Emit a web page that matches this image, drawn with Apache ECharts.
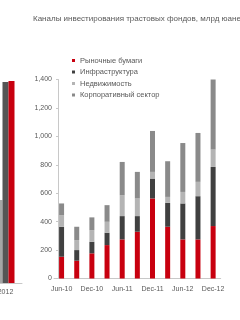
<!DOCTYPE html>
<html><head><meta charset="utf-8">
<script src="https://cdn.jsdelivr.net/npm/echarts@6/dist/echarts.min.js"></script>
<style>html,body{margin:0;padding:0;background:#fff}#c{width:240px;height:320px}</style>
</head><body><div id="c"></div>
<script>
var title = 'Каналы инвестирования трастовых фондов, млрд юаней';
var categories = ['Jun-10','Sep-10','Dec-10','Mar-11','Jun-11','Sep-11','Dec-11','Mar-12','Jun-12','Sep-12','Dec-12'];
var seriesNames = ['Рыночные бумаги','Инфраструктура','Недвижимость','Корпоративный сектор'];
var market = [153,125,177,235,275,329,563,364,275,275,369];
var infra = [211,75,81,87,164,110,140,168,253,304,416];
var realEstate = [82,70,82,77,147,124,47,42,81,101,122];
var corporate = [82,94,90,117,234,187,288,251,344,344,500];
var yTicks = [0,200,400,600,800,1000,1200,1400];
var leftCategories = ['2012'];
var leftLight = [571];
var leftDark = [1383];
var leftRed = [1390];

var colors = ['#c8000f','#404040','#b4b4b4','#8a8a8a'];
var font = 'Liberation Sans';
var txt = '#595959';
function fmt(v){return String(v).replace(/\B(?=(\d{3})+(?!\d))/g, ',');}
var data = [market, infra, realEstate, corporate];
var series = seriesNames.map(function(n,i){
  return {name:n,type:'bar',stack:'s',xAxisIndex:1,yAxisIndex:1,barWidth:5,data:data[i],
    itemStyle:{color:colors[i]},emphasis:{disabled:true}};
});
series.push({type:'bar',xAxisIndex:0,yAxisIndex:0,barWidth:6,barGap:'0%',data:leftLight,itemStyle:{color:'#a6a6a6'},silent:true});
series.push({type:'bar',xAxisIndex:0,yAxisIndex:0,barWidth:6,barGap:'0%',data:leftDark,itemStyle:{color:'#555555'},silent:true});
series.push({type:'bar',xAxisIndex:0,yAxisIndex:0,barWidth:6,barGap:'0%',data:leftRed,itemStyle:{color:'#c8000f'},silent:true});

var chart = echarts.init(document.getElementById('c'), null, {renderer:'canvas'});
chart.setOption({
  animation:false,
  backgroundColor:'#fff',
  title:{text:title,left:33,top:15,padding:0,textStyle:{fontFamily:font,fontSize:8,fontWeight:'normal',color:txt}},
  legend:{orient:'vertical',left:72,top:56,padding:0,icon:'rect',itemWidth:3,itemHeight:3,itemGap:2.5,
    data:seriesNames,textStyle:{fontFamily:font,fontSize:7.5,color:txt,lineHeight:9},selectedMode:false},
  grid:[
    {left:-11,width:33,top:79.5,bottom:37,containLabel:false,outerBoundsMode:'none'},
    {left:54,right:19.3,top:79.5,bottom:41.5,containLabel:false,outerBoundsMode:'none'}
  ],
  xAxis:[
    {type:'category',gridIndex:0,data:leftCategories,axisLine:{lineStyle:{color:'#c8c8c8'}},axisTick:{show:false},
      axisLabel:{interval:0,fontFamily:font,fontSize:7,color:txt,margin:6}},
    {type:'category',gridIndex:1,data:categories,axisLine:{lineStyle:{color:'#c8c8c8'}},axisTick:{show:false},
      axisLabel:{interval:1,fontFamily:font,fontSize:7,color:txt,margin:7}}
  ],
  yAxis:[
    {type:'value',gridIndex:0,min:0,max:1400,show:false},
    {type:'value',gridIndex:1,min:0,max:1400,interval:200,offset:-4,splitLine:{show:false},
      axisLine:{show:true,lineStyle:{color:'#c8c8c8'}},axisTick:{show:true,length:2,lineStyle:{color:'#c8c8c8'}},
      axisLabel:{fontFamily:font,fontSize:7,color:txt,margin:6,formatter:function(v){return fmt(v);}}}
  ],
  series:series
});
</script></body></html>
